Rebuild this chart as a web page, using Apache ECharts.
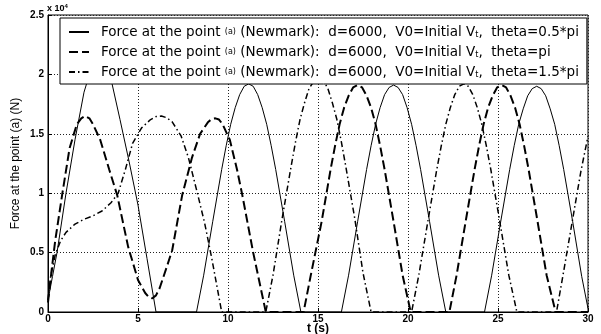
<!DOCTYPE html>
<html>
<head>
<meta charset="utf-8">
<script src="https://cdn.jsdelivr.net/npm/echarts@6/dist/echarts.min.js"></script>
<style>
html, body { margin: 0; padding: 0; background: #fff; }
#main { width: 601px; height: 334px; }
</style>
</head>
<body>
<div id="main"></div>
<script>
// legend names
var names = [
    'Force at the point (a) (Newmark):  d=6000,  V0=Initial Vt,  theta=0.5*pi',
    'Force at the point (a) (Newmark):  d=6000,  V0=Initial Vt,  theta=pi',
    'Force at the point (a) (Newmark):  d=6000,  V0=Initial Vt,  theta=1.5*pi'
];

var xTicks = [0, 5, 10, 15, 20, 25, 30];
var yTicks = [0, 0.5, 1, 1.5, 2, 2.5];   // x 10^4 N

// theta = 0.5*pi (solid)
var tSolid = [0, 0.25, 0.5, 1.0, 1.5, 2.0, 2.5, 2.85, 3.2, 3.5, 4.0, 4.5, 5.0, 5.5, 6.0,
    8.25, 8.65, 9.15, 9.65, 9.9, 10.15, 10.4, 10.65, 10.9, 11.15, 11.4, 11.65, 11.9, 12.15, 12.4, 12.65, 13.15, 13.65, 14.05,
    16.3, 16.7, 17.2, 17.7, 17.95, 18.2, 18.45, 18.7, 18.95, 19.2, 19.45, 19.7, 19.95, 20.2, 20.45, 20.7, 21.2, 21.7, 22.1,
    24.25, 24.65, 25.15, 25.65, 25.9, 26.15, 26.4, 26.65, 26.9, 27.15, 27.4, 27.65, 27.9, 28.15, 28.4, 28.65, 29.15, 29.65, 30];
var fSolid = [0.1, 0.3, 0.5, 1.0, 1.45, 1.85, 2.1, 2.16, 2.1, 1.96, 1.62, 1.27, 0.9, 0.45, 0,
    0, 0.31, 0.76, 1.2, 1.4, 1.58, 1.72, 1.83, 1.9, 1.92, 1.9, 1.83, 1.72, 1.58, 1.4, 1.2, 0.76, 0.31, 0,
    0, 0.31, 0.76, 1.2, 1.4, 1.58, 1.72, 1.83, 1.89, 1.91, 1.89, 1.83, 1.72, 1.58, 1.4, 1.2, 0.76, 0.31, 0,
    0, 0.31, 0.76, 1.2, 1.4, 1.58, 1.71, 1.82, 1.88, 1.9, 1.88, 1.82, 1.71, 1.58, 1.4, 1.2, 0.76, 0.3, 0.03];

// theta = pi (dashed)
var tDash = [0, 0.2, 0.4, 0.8, 1.2, 1.6, 1.85, 2.05, 2.3, 2.5, 2.9, 3.4, 3.85, 4.45, 5.0, 5.4, 5.6, 5.8, 6.0, 6.2, 6.6, 6.9,
    7.45, 8.0, 8.45, 8.9, 9.1, 9.3, 9.5, 9.7, 10.1, 10.5, 10.8, 11.4, 12.1,
    14.2, 14.6, 15.2, 15.7, 15.95, 16.2, 16.45, 16.7, 16.95, 17.2, 17.45, 17.7, 17.95, 18.2, 18.45, 18.7, 19.2, 19.7, 20.15,
    22.3, 22.7, 23.2, 23.7, 23.95, 24.2, 24.45, 24.7, 24.95, 25.2, 25.45, 25.7, 25.95, 26.2, 26.45, 26.7, 27.2, 27.7, 28.2, 30];
var fDash = [0.08, 0.35, 0.6, 1.0, 1.38, 1.58, 1.63, 1.65, 1.63, 1.58, 1.45, 1.2, 0.98, 0.55, 0.27, 0.16, 0.125, 0.115, 0.14, 0.2, 0.38, 0.52,
    0.98, 1.3, 1.5, 1.6, 1.625, 1.63, 1.62, 1.58, 1.45, 1.2, 0.98, 0.5, 0,
    0, 0.31, 0.76, 1.2, 1.4, 1.58, 1.72, 1.82, 1.89, 1.91, 1.89, 1.82, 1.72, 1.58, 1.4, 1.2, 0.76, 0.31, 0,
    0, 0.31, 0.76, 1.2, 1.4, 1.58, 1.72, 1.82, 1.89, 1.91, 1.89, 1.82, 1.72, 1.58, 1.4, 1.2, 0.76, 0.31, 0, 0];

// theta = 1.5*pi (dash-dot)
var tDot = [0, 0.15, 0.4, 0.7, 1.0, 1.5, 2.0, 2.5, 3.0, 3.5, 3.9, 4.3, 4.7, 5.2, 5.7, 6.0, 6.3, 6.6, 6.9, 7.4, 7.8,
    8.3, 8.7, 9.1, 9.65,
    12.1, 12.5, 13.0, 13.5, 13.75, 14.0, 14.25, 14.5, 14.8, 15.05, 15.3, 15.55, 15.8, 16.05, 16.3, 16.55, 17.05, 17.5, 17.95,
    20.2, 20.6, 21.1, 21.6, 21.85, 22.1, 22.35, 22.6, 22.85, 23.1, 23.35, 23.6, 23.85, 24.1, 24.35, 24.6, 25.1, 25.6, 26.05,
    28.25, 28.6, 29.1, 29.6, 30];
var fDot = [0.1, 0.3, 0.48, 0.6, 0.67, 0.74, 0.78, 0.81, 0.85, 0.92, 1.0, 1.2, 1.42, 1.55, 1.62, 1.645, 1.65, 1.635, 1.6, 1.48, 1.3,
    1.0, 0.75, 0.45, 0,
    0, 0.31, 0.78, 1.22, 1.43, 1.62, 1.76, 1.88, 1.95, 1.97, 1.95, 1.88, 1.76, 1.62, 1.43, 1.22, 0.78, 0.33, 0,
    0, 0.31, 0.76, 1.2, 1.4, 1.58, 1.72, 1.83, 1.9, 1.92, 1.9, 1.83, 1.72, 1.58, 1.4, 1.2, 0.76, 0.31, 0,
    0, 0.3, 0.74, 1.18, 1.48];

function pairs(t, f) {
    var d = [];
    for (var i = 0; i < t.length; i++) d.push([t[i], f[i]]);
    return d;
}

var font = 'Liberation Sans, Arial, sans-serif';
var legendFont = 'DejaVu Sans, Verdana, sans-serif';
var myChart = echarts.init(document.getElementById('main'));

var option = {
    animation: false,
    backgroundColor: '#fff',
    grid: {
        left: 48, right: 13, top: 15, bottom: 22,
        outerBoundsMode: 'none', containLabel: false,
        show: true, borderColor: '#000', borderWidth: 1
    },
    graphic: [{
        type: 'text', left: 47, top: 3,
        style: {
            text: 'x 10{sup|4}', fill: '#000',
            font: 'bold 9px ' + font,
            rich: { sup: { fontSize: 6, fontWeight: 'bold', fontFamily: font, padding: [0, 0, 5, 0] } }
        }
    }],
    legend: {
        orient: 'vertical',
        left: 60, top: 18,
        padding: [7, 8, 5, 8],
        itemGap: 6,
        itemWidth: 20, itemHeight: 12,
        backgroundColor: '#fff',
        borderColor: '#000', borderWidth: 1,
        itemStyle: { color: 'rgba(0,0,0,0)', borderWidth: 0 },
        data: names,
        formatter: function (name) {
            return name.replace('(a)', '{s|(a)}').replace(' Vt,', ' V{sub|t},');
        },
        textStyle: {
            fontFamily: legendFont, fontSize: 13.5, color: '#000', padding: [0, 0, 0, 7],
            rich: {
                s: { fontFamily: legendFont, fontSize: 8, color: '#000' },
                sub: { fontFamily: legendFont, fontSize: 8, color: '#000', padding: [5, 0, 0, 0] }
            }
        }
    },
    xAxis: {
        type: 'value', min: 0, max: 30, interval: 5,
        name: 't (s)', nameLocation: 'middle', nameGap: 11, nameMoveOverlap: false,
        nameTextStyle: { fontFamily: font, fontSize: 12, fontWeight: 'bold', color: '#000', verticalAlign: 'top' },
        axisLine: { lineStyle: { color: '#000', width: 1 } },
        axisTick: { inside: true, length: 4, lineStyle: { color: '#000' } },
        axisLabel: {
            margin: 2, color: '#000', fontFamily: font, fontSize: 10, fontWeight: 'bold',
            formatter: function (v) { return xTicks.indexOf(v) >= 0 ? String(v) : ''; }
        },
        splitLine: { show: true, lineStyle: { color: '#222', type: [1, 2], width: 1 } }
    },
    yAxis: {
        type: 'value', min: 0, max: 2.5, interval: 0.5,
        name: 'Force at the point (a) (N)', nameLocation: 'middle', nameGap: 26, nameMoveOverlap: false,
        nameTextStyle: { fontFamily: font, fontSize: 12, color: '#000' },
        axisLine: { show: true, lineStyle: { color: '#000', width: 1 } },
        axisTick: { show: true, inside: true, length: 4, lineStyle: { color: '#000' } },
        axisLabel: {
            margin: 4, color: '#000', fontFamily: font, fontSize: 10, fontWeight: 'bold',
            formatter: function (v) { return yTicks.indexOf(v) >= 0 ? String(v) : ''; }
        },
        splitLine: { show: true, lineStyle: { color: '#222', type: [1, 2], width: 1 } }
    },
    series: [
        {
            name: names[0], type: 'line', data: pairs(tSolid, fSolid),
            showSymbol: false, symbol: 'none', z: 3,
            lineStyle: { color: '#000', width: 1, type: 'solid' }, itemStyle: { color: '#000' }
        },
        {
            name: names[1], type: 'line', data: pairs(tDash, fDash),
            showSymbol: false, symbol: 'none', z: 3,
            lineStyle: { color: '#000', width: 2, type: [9, 4] }, itemStyle: { color: '#000' }
        },
        {
            name: names[2], type: 'line', data: pairs(tDot, fDot),
            showSymbol: false, symbol: 'none', z: 3,
            lineStyle: { color: '#000', width: 1.5, type: [6, 3, 1.5, 3] }, itemStyle: { color: '#000' }
        }
    ]
};
myChart.setOption(option);
</script>
</body>
</html>
